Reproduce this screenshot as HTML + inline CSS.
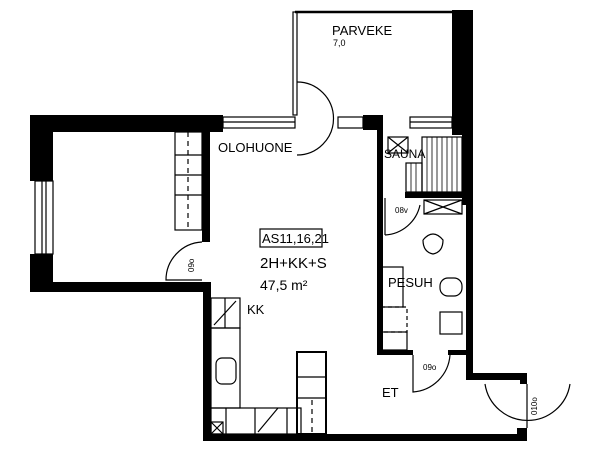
<!DOCTYPE html>
<html><head><style>body{margin:0;background:#fff}svg{display:block}text{font-family:"Liberation Sans",sans-serif;fill:#000}</style></head><body>
<svg width="600" height="456" viewBox="0 0 600 456" xmlns="http://www.w3.org/2000/svg">
<g fill="#000">
<rect x="30" y="115" width="193" height="17"/>
<rect x="30" y="115" width="23" height="66"/>
<rect x="30" y="254" width="23" height="38"/>
<rect x="30" y="282" width="180" height="10"/>
<rect x="202" y="132" width="8" height="110"/>
<rect x="203" y="282" width="8" height="159"/>
<rect x="203" y="434" width="324" height="7"/>
<rect x="517" y="428" width="10" height="13"/>
<rect x="520" y="373" width="7" height="11"/>
<rect x="466" y="373" width="61" height="7"/>
<rect x="452" y="10" width="21" height="125"/>
<rect x="462" y="130" width="11" height="75"/>
<rect x="466" y="200" width="7" height="180"/>
<rect x="363" y="115" width="20" height="15"/>
<rect x="377" y="115" width="6" height="240"/>
<rect x="377" y="350" width="36" height="5"/>
<rect x="448" y="350" width="18" height="5"/>
<rect x="405" y="192" width="57" height="6"/>
</g>
<g fill="none" stroke="#000" stroke-width="1.2">
<rect x="35" y="181" width="18" height="73"/><line x1="42" y1="181" x2="42" y2="254"/><line x1="46" y1="181" x2="46" y2="254"/>
<rect x="223" y="117" width="72" height="11"/><line x1="223" y1="122" x2="295" y2="122"/>
<rect x="410" y="117" width="42" height="11"/><line x1="410" y1="122" x2="452" y2="122"/>
<rect x="338" y="117" width="25" height="11"/>
<line x1="295" y1="12" x2="452" y2="12" stroke-width="2.5"/>
<rect x="293" y="12" width="4" height="103"/>
<path d="M297 82 A36 36 0 0 1 297 155"/>
<rect x="175" y="132" width="27" height="98"/>
<line x1="175" y1="155" x2="202" y2="155"/><line x1="175" y1="175" x2="202" y2="175"/><line x1="175" y1="195" x2="202" y2="195"/>
<line x1="188" y1="132" x2="188" y2="230" stroke-dasharray="5,4"/>
<path d="M202 242 A38 38 0 0 0 166 280 L202 280"/>
<rect x="388" y="137" width="20" height="16"/><path d="M388 137 L408 153 M408 137 L388 153"/>
<rect x="422" y="137" width="40" height="55"/>
<rect x="406" y="163" width="16" height="29"/>
<g stroke-width="0.8"><line x1="427" y1="137" x2="427" y2="192"/><line x1="432" y1="137" x2="432" y2="192"/><line x1="437" y1="137" x2="437" y2="192"/><line x1="442" y1="137" x2="442" y2="192"/><line x1="447" y1="137" x2="447" y2="192"/><line x1="452" y1="137" x2="452" y2="192"/><line x1="457" y1="137" x2="457" y2="192"/><line x1="411" y1="163" x2="411" y2="192"/><line x1="416" y1="163" x2="416" y2="192"/></g>
<rect x="424" y="200" width="38" height="14"/><path d="M424 200 L462 214 M462 200 L424 214"/>
<path d="M385 198 L385 235 M385 235 A38 38 0 0 0 420 205"/>
<path d="M423 240 q10 -12 20 0 q0 12 -10 14 q-10 -2 -10 -14"/>
<rect x="440" y="278" width="22" height="18" rx="8"/>
<rect x="440" y="312" width="22" height="22"/>
<rect x="381" y="267" width="22" height="40"/>
<rect x="381" y="307" width="26" height="25" stroke-dasharray="4,3"/>
<rect x="381" y="332" width="26" height="18"/>
<path d="M413 355 L413 392 A40 40 0 0 0 450 355" />
<path d="M527 384 L527 428 M485 384 A43 43 0 0 0 570 384"/>
<rect x="211" y="298" width="29" height="30"/><line x1="225" y1="298" x2="225" y2="328"/>
<path d="M214 325 L236 301"/>
<rect x="211" y="328" width="29" height="80"/>
<rect x="216" y="358" width="20" height="26" rx="6"/>
<rect x="211" y="408" width="90" height="26"/>
<line x1="226" y1="408" x2="226" y2="434"/><line x1="255" y1="408" x2="255" y2="434"/><line x1="287" y1="408" x2="287" y2="434"/>
<path d="M258 432 L278 408"/>
<rect x="211" y="422" width="12" height="12"/><path d="M211 422 L223 434 M223 422 L211 434"/>
<rect x="297" y="352" width="29" height="82" stroke-width="2"/>
<line x1="297" y1="377" x2="326" y2="377"/><line x1="297" y1="398" x2="326" y2="398"/>
<line x1="312" y1="400" x2="312" y2="432" stroke-dasharray="5,4"/>
<rect x="260" y="229" width="62" height="18"/>
</g>
<text x="218" y="152" font-size="13">OLOHUONE</text>
<text x="332" y="35" font-size="13">PARVEKE</text>
<text x="333" y="46" font-size="9">7,0</text>
<text x="384" y="158" font-size="12">SAUNA</text>
<text x="395" y="213" font-size="8">08v</text>
<text x="262" y="243" font-size="13">AS11,16,21</text>
<text x="260" y="268" font-size="15">2H+KK+S</text>
<text x="260" y="290" font-size="14">47,5 m²</text>
<text x="247" y="314" font-size="13">KK</text>
<text x="388" y="287" font-size="13">PESUH</text>
<text x="382" y="397" font-size="13">ET</text>
<text x="423" y="370" font-size="8">09o</text>
<text transform="translate(194,272) rotate(-90)" font-size="8">09o</text>
<text transform="translate(537,415) rotate(-90)" font-size="8">010o</text>
</svg>
</body></html>
